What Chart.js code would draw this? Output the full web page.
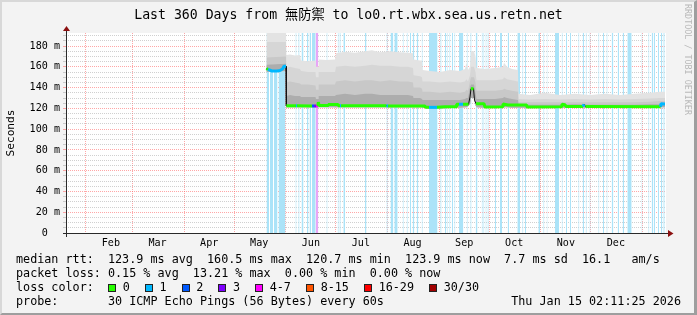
<!DOCTYPE html>
<html><head><meta charset="utf-8">
<script src="https://cdn.jsdelivr.net/npm/chart.js@4.4.1/dist/chart.umd.min.js"></script>
<style>
html,body{margin:0;padding:0;background:#f3f3f3;}
#wrap{position:relative;width:697px;height:315px;overflow:hidden;background:#f3f3f3;}
#c{position:absolute;left:0;top:0;}
#frame{position:absolute;left:0;top:0;width:697px;height:315px;box-sizing:border-box;border-left:2px solid #d8d8d8;border-top:2px solid #d8d8d8;border-right:3px solid #9e9e9e;border-bottom:2px solid #9e9e9e;pointer-events:none;}
.t{position:absolute;font-family:'DejaVu Sans Mono',monospace;color:#000;white-space:pre;}
#title{left:0;width:697px;text-align:center;top:6px;font-size:13.2px;line-height:18px;font-family:'DejaVu Sans Mono','Noto Sans CJK TC',monospace;}
.leg{left:16px;font-size:11.76px;line-height:14px;}
#wm{left:683px;top:4px;font-size:8.4px;line-height:10px;color:#b8b8b8;writing-mode:vertical-rl;}
.box{display:inline-block;width:6px;height:6px;border:1px solid #222;margin-right:6.7px;vertical-align:-0.5px;}
.lab{margin-right:15px;}
</style>
</head><body>
<div id="wrap">
<canvas id="c" width="697" height="315"></canvas>
<div id="title" class="t">Last 360 Days from 無防禦 to lo0.rt.wbx.sea.us.retn.net</div>
<div id="wm" class="t">RRDTOOL / TOBI OETIKER</div>
<div class="t leg" style="top:252px">median rtt:  123.9 ms avg  160.5 ms max  120.7 ms min  123.9 ms now  7.7 ms sd  16.1   am/s</div>
<div class="t leg" style="top:266px">packet loss: 0.15 % avg  13.21 % max  0.00 % min  0.00 % now</div>
<div class="t leg" id="losslegend" style="top:280px">loss color:  </div>
<div class="t leg" style="top:294px">probe:       30 ICMP Echo Pings (56 Bytes) every 60s</div>
<div class="t leg" style="top:294px;left:auto;right:16px">Thu Jan 15 02:11:25 2026</div>
<div id="frame"></div>
</div>
<script>
// ---- time axis (days since start of the 360 day window) ----
const START_MS = Date.UTC(2025, 0, 20, 2, 11, 25);
const DAY_MS = 86400000;
const RANGE_DAYS = 360;
const monthStartsYM = [[2025,1],[2025,2],[2025,3],[2025,4],[2025,5],[2025,6],[2025,7],[2025,8],[2025,9],[2025,10],[2025,11],[2026,0]];
const monthLabels = ['Feb','Mar','Apr','May','Jun','Jul','Aug','Sep','Oct','Nov','Dec',''];
const monthStarts = monthStartsYM.map(([y,m]) => (Date.UTC(y,m,1) - START_MS) / DAY_MS);

// ---- y axis (milliseconds) ----
const yMax = 192.6;
const yMajorTicks = [0,20,40,60,80,100,120,140,160,180];
const yMajorLabels = ['0  ','20 m','40 m','60 m','80 m','100 m','120 m','140 m','160 m','180 m'];
const yMinorStep = 5;

// ---- loss colours ----
const lossLabels = ['0','1','2','3','4-7','8-15','16-29','30/30'];
const lossColors = ['#26ff00','#00b8ff','#0059ff','#7e00ff','#ff00ff','#ff5500','#ff0000','#a10000'];

// ---- loss background stripes (day intervals) ----
const lossStripes1 = [[120.3,121.8],[122.4,124.2],[124.8,126.9],[127.5,131.7],
 [137.7,138.3],[139.4,140.1],[141.3,142.5],[144.6,145.5],[146.1,147.0],[147.6,149.8],
 [156.3,156.9],[163.0,163.6],[164.1,164.8],[166.4,167.4],[179.4,180.3],
 [192.3,193.0],[194.7,196.4],[197.0,199.0],[202.0,202.6],[204.4,205.0],[206.4,207.0],[208.0,209.0],[210.4,211.4],[213.4,214.0],
 [217.8,222.9],[224.6,225.3],[227.4,228.0],[228.4,229.0],[230.0,230.6],[231.6,232.2],[233.0,233.6],[235.8,238.4],[240.4,241.0],[242.6,243.3],[245.8,246.9],[249.4,250.0],[250.4,251.0],[251.7,252.3],[252.9,253.6],
 [257.4,258.0],[260.4,261.6],[265.0,265.8],[270.8,272.4],[273.8,274.4],[275.4,276.0],[283.4,284.4],[286.4,287.0],[288.4,288.9],[293.4,295.8],[297.4,298.0],[300.0,300.6],[302.4,303.0],[307.4,308.0],[310.0,310.8],[311.8,312.4],[314.1,314.7],
 [319.4,320.0],[322.2,322.8],[324.3,324.9],[327.4,328.4],[331.0,331.8],[334.0,334.8],[336.8,339.4],[345.3,345.8],[349.4,350.0],[351.4,352.4],[352.8,353.4],[355.2,355.8],[357.0,357.8],[358.4,359.2]];
const lossStripes4 = [[149.8,151.4]];

// ---- smoke (ping distribution bands) ----
const smokeX = [120.3,132.0,132.2,134.4,137.4,140.4,141.0,145.2,149.7,150.0,151.4,151.6,156.0,161.4,162.0,167.4,173.4,179.4,183.6,188.4,194.4,200.4,205.2,208.2,208.5,212.4,213.6,213.9,218.4,224.4,230.4,236.4,239.4,240.3,241.2,242.4,243.0,244.8,245.7,246.3,251.4,257.4,262.2,262.8,264.6,267.6,271.2,271.5,278.4,287.4,296.4,305.4,314.4,323.4,332.4,341.4,350.4,356.4,359.4];
const smokeMax = [200,200,171.5,172,171,171.5,166,165.5,166,160,160,167,166.5,167,173,174.5,173.5,175,176,174,175,174,173.5,173,167,166,166,157,156,155,157,156,158,164,157,160,175,175,170,159,158,159,160,164,160,158,157,134,133,135,133,134,133,134,133,134,135,136,136];
const smokeQ2 = [184,184,159,160,159,158,156,155,155,150,150,155,155,155,160,161,160,161,162,161,161,160,160,159,152,151,150,146,146,145,146,145,146,148,146,152,160,160,155,147,147,147,148,150,148,147,146,129,128.5,129,128.5,129,128.5,129,128.5,129,129.5,130,130];
const smokeQ3 = [169,170,145,146,145,144,143,143,142,138,138,143,143,143,146,147,146,147,147,146,147,146,146,145,140,140,139,136,136,135,136,135,136,138,137,146,150,150,145,137,137,137,138,139,138,137,136,126,126,126,126,126,126,126,126,126,126.5,127,127];
const smokeQ4 = [162,163,132,133,132,132,131,131,131,129,129,132,132,132,133,134,133,134,134,133,133,133,133,132,130,130,129,128,128,128,128,128,129,130,130,140,143,143,135,129,129,129,130,131,130,129,128,124,123.5,123.5,123.5,124,123.5,123.5,123.5,123.5,124,124,124.5];
const smokeMin = [155,156,121,121,121,121,121,121,121,121,121,121,121,121,121,121,121,121,121,121,121,121,121,121,121,121,121,120.5,120,120,120.5,120.5,121,121,122,124,130,130,123,121,120.5,120.5,120.5,121,121,120.5,120.5,120.5,120.5,120.5,120.5,120.5,120.5,120.5,120.5,120.5,120.5,121,121];

// ---- median rtt and its loss bin ----
const medX = [120.3,121.2,123.6,126.6,128.4,129.9,130.8,132.0,132.2,138.0,138.6,147.6,148.8,150.0,151.1,151.4,151.8,157.2,157.4,163.2,163.4,164.4,165.0,192.3,193.2,215.4,215.7,217.8,222.6,227.4,234.2,234.4,235.8,238.2,241.5,242.4,243.0,244.5,245.1,246.0,250.8,251.4,262.0,262.2,265.2,276.4,276.6,297.4,297.6,299.4,300.0,310.2,310.8,311.7,356.7,357.0,359.4];
const medY = [158.5,157.5,156,156,156.5,158,160.5,160.5,122.5,122.5,122.5,122.3,122.3,122.3,122.3,126,122.8,122.8,123.8,123.8,122.5,122.5,122.5,122.5,122.3,122.2,121,121,121,121.5,121.5,124,124,124,124,131,139,139,128,124.5,124.5,121.3,121.5,124.2,123.2,123.2,121.3,121.5,124,123.5,121.8,121.8,124,121.8,121.6,124.4,124.2];
const medLoss = [0,1,1,1,1,1,1,1,0,1,0,2,3,4,0,0,0,0,0,0,0,1,0,1,0,0,0,1,0,0,0,0,1,0,0,1,0,0,1,0,0,0,0,0,0,0,0,0,0,0,0,1,1,0,1,1,1];

// ---- legend ----
const lossLeg = document.getElementById('losslegend');
lossLabels.forEach((l, i) => {
  const b = document.createElement('span'); b.className = 'box'; b.style.background = lossColors[i];
  const t = document.createElement('span'); t.className = 'lab'; t.textContent = l;
  lossLeg.appendChild(b); lossLeg.appendChild(t);
});

// ---- helpers ----
const toPts = (xs, ys) => xs.map((x, i) => ({x, y: ys[i]}));
function stripePts(list) {
  const pts = [];
  list.forEach(([s, e]) => { pts.push({x: s, y: yMax}, {x: e, y: yMax}, {x: e, y: null}); });
  return pts;
}
const MAJOR = 'rgba(255,95,95,0.55)';
const MINOR = 'rgba(143,143,143,0.42)';
const FONT = "'DejaVu Sans Mono', monospace";

const plain = {pointRadius: 0, pointHoverRadius: 0, borderWidth: 0, tension: 0};

const bgPlugin = {
  id: 'bg',
  beforeDraw(chart) {
    const {ctx, chartArea: a} = chart;
    ctx.save(); ctx.fillStyle = '#ffffff';
    ctx.fillRect(a.left, a.top, a.right - a.left, a.bottom - a.top);
    ctx.restore();
  }
};
const axisPlugin = {
  id: 'axes',
  afterDraw(chart) {
    const {ctx, chartArea: a} = chart;
    const x0 = Math.round(a.left) + 0.5, y0 = Math.round(a.bottom) + 0.5;
    ctx.save();
    ctx.strokeStyle = '#2a2a2a'; ctx.lineWidth = 1;
    ctx.beginPath(); ctx.moveTo(x0, a.bottom + 4); ctx.lineTo(x0, a.top - 3); ctx.stroke();
    ctx.beginPath(); ctx.moveTo(a.left - 3, y0); ctx.lineTo(a.right + 3, y0); ctx.stroke();
    ctx.fillStyle = '#8b1010';
    ctx.beginPath(); ctx.moveTo(x0 - 3.5, a.top - 2); ctx.lineTo(x0 + 3.5, a.top - 2); ctx.lineTo(x0, a.top - 7); ctx.closePath(); ctx.fill();
    ctx.beginPath(); ctx.moveTo(a.right + 2, y0 - 3.5); ctx.lineTo(a.right + 2, y0 + 3.5); ctx.lineTo(a.right + 7.5, y0); ctx.closePath(); ctx.fill();
    ctx.restore();
  }
};

new Chart(document.getElementById('c'), {
  type: 'line',
  data: {
    datasets: [
      Object.assign({data: stripePts(lossStripes1), backgroundColor: '#abe3f8', fill: 'origin', order: 20}, plain),
      Object.assign({data: stripePts(lossStripes4), backgroundColor: '#e8a6f6', fill: 'origin', order: 19}, plain),
      Object.assign({data: toPts(smokeX, smokeMin), fill: false, order: 18, borderColor: 'rgba(0,0,0,0)'}, plain),
      Object.assign({data: toPts(smokeX, smokeMax), backgroundColor: '#e3e3e3', fill: 2, order: 17}, plain),
      Object.assign({data: toPts(smokeX, smokeQ2), backgroundColor: '#d6d6d6', fill: 2, order: 16}, plain),
      Object.assign({data: toPts(smokeX, smokeQ3), backgroundColor: '#c8c8c8', fill: 2, order: 15}, plain),
      Object.assign({data: toPts(smokeX, smokeQ4), backgroundColor: '#adadad', fill: 2, order: 14}, plain),
      {data: toPts(medX, medY), borderColor: '#111', borderWidth: 1, pointRadius: 0, fill: false, tension: 0, order: 2,
       borderJoinStyle: 'bevel'},
      {data: toPts(medX, medY), borderWidth: 3, pointRadius: 0, fill: false, tension: 0, order: 1,
       borderCapStyle: 'butt', borderJoinStyle: 'bevel', borderColor: lossColors[0],
       segment: {
         borderColor: c => {
           const a = medLoss[c.p0DataIndex], b = medLoss[c.p1DataIndex];
           if (a !== b && Math.abs(c.p1.parsed.y - c.p0.parsed.y) > 1.5) return 'rgba(0,0,0,0)';
           return lossColors[a];
         }
       }}
    ]
  },
  options: {
    responsive: false, animation: false, devicePixelRatio: 1,
    layout: {padding: {left: 3, top: 33, right: 31, bottom: 62}},
    plugins: {legend: {display: false}, tooltip: {enabled: false}, title: {display: false}},
    events: [],
    scales: {
      x: {
        type: 'linear', min: 0, max: RANGE_DAYS, z: 1,
        afterBuildTicks: s => { s.ticks = monthStarts.map(v => ({value: v})); },
        afterFit: s => { s.height = 20; },
        ticks: {autoSkip: false, maxRotation: 0, labelOffset: 25, padding: 4, color: '#000',
                font: {family: FONT, size: 10.1},
                callback: (v, i) => monthLabels[i]},
        grid: {color: MAJOR, lineWidth: 1, drawTicks: false},
        border: {display: false, dash: [1, 1]}
      },
      y: {
        type: 'linear', min: 0, max: yMax, z: 1,
        afterBuildTicks: s => {
          const t = [];
          for (let v = 0; v <= yMax; v += yMinorStep) t.push({value: v});
          s.ticks = t;
        },
        afterFit: s => { s.width = 63; },
        ticks: {autoSkip: false, padding: 3, color: '#000', font: {family: FONT, size: 10.1},
                callback: v => { const k = yMajorTicks.indexOf(v); return k >= 0 ? yMajorLabels[k] : ''; }},
        grid: {
          lineWidth: 1, drawTicks: true, tickLength: 3,
          color: c => (c.tick && yMajorTicks.includes(c.tick.value)) ? MAJOR : MINOR,
          tickColor: c => (c.tick && yMajorTicks.includes(c.tick.value)) ? MAJOR : MINOR
        },
        border: {display: false, dash: [1, 1]},
        title: {display: true, text: 'Seconds', color: '#000', padding: {top: 1, bottom: 0},
                font: {family: FONT, size: 11.2, lineHeight: 1.2}}
      }
    }
  },
  plugins: [bgPlugin, axisPlugin]
});
</script>
</body></html>
